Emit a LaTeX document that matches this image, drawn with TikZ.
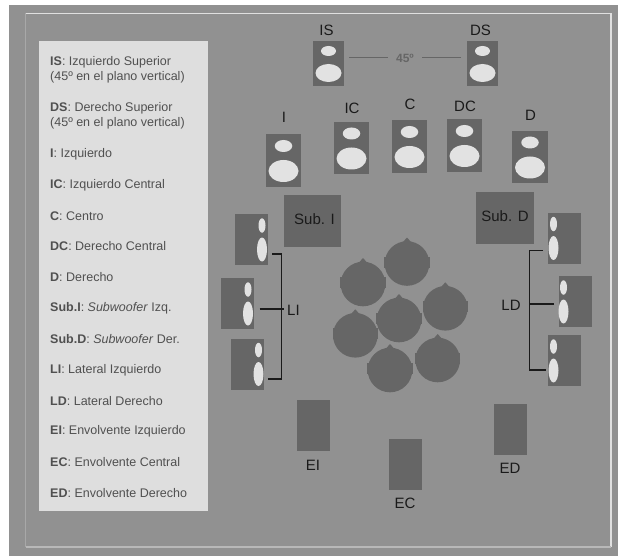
\documentclass[tikz,border=0pt]{standalone}
\usepackage{fontspec}
\setmainfont{Liberation Sans}
\usetikzlibrary{shapes.geometric}
\definecolor{bggray}{HTML}{919191}
\definecolor{boxgray}{HTML}{666666}
\definecolor{conegray}{HTML}{E2E2E2}
\definecolor{panelgray}{HTML}{DEDEDE}
\definecolor{legendtext}{HTML}{505050}
\definecolor{labeltext}{HTML}{1A1A1A}
\tikzset{
  cab/.style={fill=boxgray,draw=none,inner sep=0pt,outer sep=0pt,rectangle},
  cabtop/.style={cab,minimum width=31pt,minimum height=45pt},
  cabfront/.style={cab,minimum width=35.5pt,minimum height=52.5pt},
  cabside/.style={cab,minimum width=33pt,minimum height=51pt},
  cabsub/.style={cab,minimum width=57.5pt,minimum height=52pt},
  cone/.style={ellipse,fill=conegray,draw=none,inner sep=0pt,outer sep=0pt},
  lbl/.style={text=labeltext,font=\fontsize{15}{17}\selectfont,inner sep=0pt},
  leg/.style={text=legendtext,font=\fontsize{12.5}{15}\selectfont,anchor=west,inner sep=0pt,align=left},
  brk/.style={draw=labeltext,line width=1.1pt},
  angl/.style={draw=boxgray,line width=0.8pt},
  headfill/.style={fill=boxgray,draw=none},
  framel/.style={line width=1.2pt}
}
\newcommand{\spkfront}[4]{%
  \node[cabfront] (#1) at (#2,#3) {};
  \node[cone,minimum width=17.5pt,minimum height=12pt] (#1s) at (#2,#3-14.5) {};
  \node[cone,minimum width=30pt,minimum height=22pt] (#1w) at (#2,#3+10.5) {};
  \node[lbl] (#1l) at (#2+0.5,#4) {#1};
}
\newcommand{\spktop}[4]{%
  \node[cabtop] (#1) at (#2,#3) {};
  \node[cone,minimum width=15pt,minimum height=10pt] (#1s) at (#2,#3-12.5) {};
  \node[cone,minimum width=26pt,minimum height=18pt] (#1w) at (#2,#3+9.5) {};
  \node[lbl] (#1l) at (#2-2,#4) {#1};
}
\newcommand{\spkside}[4]{%
  \node[cabside] (#1) at (#2,#3) {};
  \node[cone,minimum width=7pt,minimum height=14.5pt] (#1s) at (#2+#4,#3-14) {};
  \node[cone,minimum width=10pt,minimum height=24pt] (#1w) at (#2+#4,#3+10) {};
}
\newcommand{\listener}[2]{%
  \fill[headfill] (#1,#2) circle (22.3pt);
  \fill[headfill] (#1-4,#2-21.5) -- (#1,#2-26) -- (#1+4,#2-21.5) -- cycle;
  \fill[headfill] (#1-22.7,#2-7) rectangle (#1+22.7,#2+4);
}
\begin{document}
\begin{tikzpicture}[x=1pt,y=-1pt]
\useasboundingbox (0,0) rectangle (618,556);
\fill[white] (0,0) rectangle (618,556);
\fill[bggray] (9,5) rectangle (618,556);
% frame
\draw[framel,draw=white!88!black] (25.5,13.5) -- (611,13.5) -- (611,547);
\draw[framel,draw=white!72!black] (611,547) -- (25.5,547);
\draw[framel,draw=white!66!black] (25.5,547) -- (25.5,13.5);
% legend
\node[fill=panelgray,inner sep=0pt,minimum width=169.5pt,minimum height=470pt,anchor=north west] (panel) at (38.5,41) {};
\node[leg] (t1) at (50,69.5) {\textbf{IS}: Izquierdo Superior\\(45º en el plano vertical)};
\node[leg] (t2) at (50,115.5) {\textbf{DS}: Derecho Superior\\(45º en el plano vertical)};
\node[leg] (t3) at (50,154) {\textbf{I}: Izquierdo};
\node[leg] (t4) at (50,185) {\textbf{IC}: Izquierdo Central};
\node[leg] (t5) at (50,216) {\textbf{C}: Centro};
\node[leg] (t6) at (50,246.5) {\textbf{DC}: Derecho Central};
\node[leg] (t7) at (50,277) {\textbf{D}: Derecho};
\node[leg] (t8) at (50,308.5) {\textbf{Sub.I}: \textit{Subwoofer} Izq.};
\node[leg] (t9) at (50,339) {\textbf{Sub.D}: \textit{Subwoofer} Der.};
\node[leg] (t10) at (50,370) {\textbf{LI}: Lateral Izquierdo};
\node[leg] (t11) at (50,401) {\textbf{LD}: Lateral Derecho};
\node[leg] (t12) at (50,431.5) {\textbf{EI}: Envolvente Izquierdo};
\node[leg] (t13) at (50,462) {\textbf{EC}: Envolvente Central};
\node[leg] (t14) at (50,493) {\textbf{ED}: Envolvente Derecho};
% upper speakers
\spktop{IS}{328.5}{63.5}{30.5}
\spktop{DS}{482.5}{63.5}{30.5}
\node[text=boxgray,font=\fontsize{12}{14}\selectfont\bfseries,inner sep=0pt,minimum width=34pt] (ang) at (405,58) {45º};
\coordinate (angL) at (349,57.5);
\coordinate (angR) at (461,57.5);
\draw[angl] (angL) -- (ang.west |- angL);
\draw[angl] (angR) -- (ang.east |- angR);
% front speakers
\spkfront{I}{283.5}{160.5}{117.5}
\spkfront{IC}{351.5}{148}{108}
\spkfront{C}{409.5}{146.5}{104}
\spkfront{DC}{464.5}{145.5}{106}
\spkfront{D}{530}{157}{115}
% subwoofers
\node[cabsub] (subI) at (312.5,221) {};
\node[lbl,yshift=2pt] at (314.5,221) (subIl) {Sub. I};
\node[cabsub] (subD) at (505,218) {};
\node[lbl,yshift=2pt] at (subD.center) (subDl) {Sub. D};
% listeners
\listener{407}{263.5}
\listener{363}{284}
\listener{399}{320}
\listener{445.3}{308.3}
\listener{355.3}{335.3}
\listener{390}{370}
\listener{437.7}{360}
% side speakers left
\spkside{LIa}{251.5}{239.5}{10.5}
\spkside{LIb}{237.5}{303.5}{10.5}
\spkside{LIc}{247.5}{364}{11}
\node[lbl] (LI) at (293.5,310) {LI};
\coordinate (LIat) at (272,254);
\coordinate (LIbt) at (259.5,309);
\coordinate (LIct) at (268,379);
\coordinate (LItop) at (281.5,254);
\coordinate (LIbot) at (281.5,379);
\draw[brk] (LIat) -- (LItop) -- (LIbot) -- (LIct);
\draw[brk,shorten >=3pt] (LIbt) -- (LI.west |- LIbt);
% side speakers right
\spkside{LDa}{564.5}{238}{-11}
\spkside{LDb}{575}{301.5}{-11.5}
\spkside{LDc}{564.5}{360.5}{-11}
\node[lbl] (LD) at (511,305) {LD};
\coordinate (LDat) at (543,250.5);
\coordinate (LDbt) at (554,304);
\coordinate (LDct) at (546,370);
\coordinate (LDtop) at (529.5,250.5);
\coordinate (LDbot) at (529.5,370);
\draw[brk] (LDat) -- (LDtop) -- (LDbot) -- (LDct);
\draw[brk] (LDbt) -- (LDtop |- LDbt);
% surround speakers
\node[cabside] (EI) at (313.5,425.5) {};
\node[lbl] (EIl) at (313,465) {EI};
\node[cabside] (EC) at (405.5,464) {};
\node[lbl] (ECl) at (405,503.5) {EC};
\node[cabside] (ED) at (510.5,429.5) {};
\node[lbl] (EDl) at (510,468) {ED};
\end{tikzpicture}
\end{document}
